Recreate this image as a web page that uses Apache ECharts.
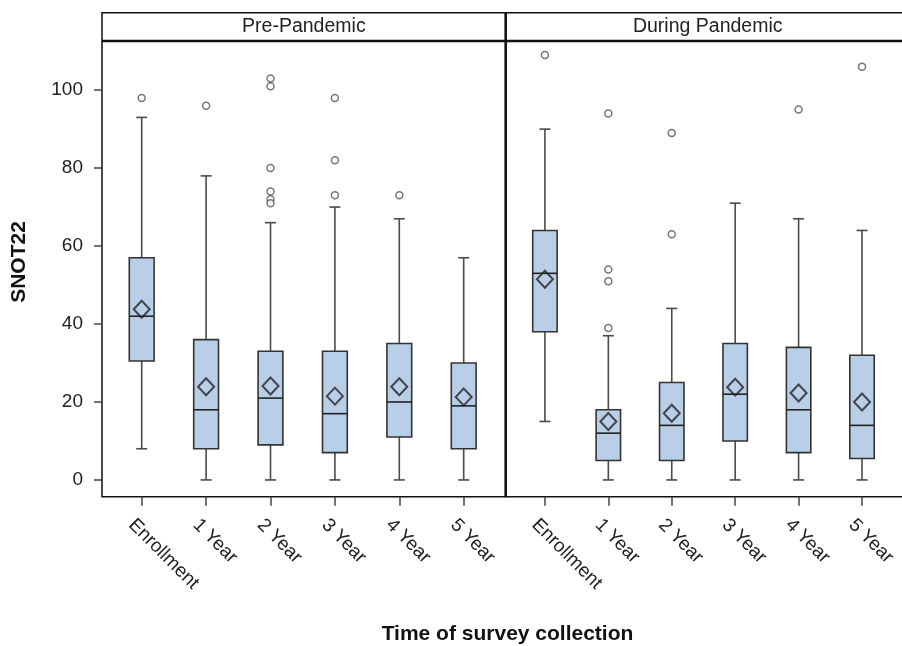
<!DOCTYPE html>
<html><head><meta charset="utf-8">
<script src="https://cdn.jsdelivr.net/npm/echarts@6/dist/echarts.min.js"></script>
<style>html,body{margin:0;padding:0;background:#fff}#c{width:902px;height:646px}</style>
</head><body><div id="c"></div>
<script>
// ---- data ----
const categories = ['Enrollment', '1 Year', '2 Year', '3 Year', '4 Year', '5 Year'];
const panelTitles = ['Pre-Pandemic', 'During Pandemic'];
const yTicks = [0, 20, 40, 60, 80, 100];
const yTitle = 'SNOT22';
const xTitle = 'Time of survey collection';

// [min, Q1, median, Q3, max] per category
const preBox = [[8, 30.5, 42, 57, 93], [0, 8, 18, 36, 78], [0, 9, 21, 33, 66], [0, 7, 17, 33, 70], [0, 11, 20, 35, 67], [0, 8, 19, 30, 57]];
const preMean = [43.8, 23.9, 24.1, 21.5, 23.9, 21.3];
const preOutliers = [[0, 98], [1, 96], [2, 103], [2, 101], [2, 80], [2, 74], [2, 72], [2, 71], [3, 98], [3, 82], [3, 73], [4, 73]];

const durBox = [[15, 38, 53, 64, 90], [0, 5, 12, 18, 37], [0, 5, 14, 25, 44], [0, 10, 22, 35, 71], [0, 7, 18, 34, 67], [0, 5.5, 14, 32, 64]];
const durMean = [51.5, 15.0, 17.1, 23.8, 22.3, 20.0];
const durOutliers = [[0, 109], [1, 94], [1, 54], [1, 51], [1, 39], [2, 89], [2, 63], [4, 95], [5, 106]];

// ---- chart ----
const FONT = '"Liberation Sans", Arial, sans-serif';
const yMin = -4.3, yMax = 112.6;
const chart = echarts.init(document.getElementById('c'), null, { renderer: 'canvas' });

function renderBox(params, api) {
  const x = api.value(0);
  const lo = api.coord([x, api.value(1)]);
  const q1 = api.coord([x, api.value(2)]);
  const med = api.coord([x, api.value(3)]);
  const q3 = api.coord([x, api.value(4)]);
  const hi = api.coord([x, api.value(5)]);
  const cx = lo[0];
  const bw = api.size([1, 0])[0] * 0.385;
  const cw = 11;
  const wStyle = { stroke: '#4a4a4a', lineWidth: 1.6 };
  return {
    type: 'group',
    children: [
      { type: 'line', shape: { x1: cx, y1: q1[1], x2: cx, y2: lo[1] }, style: wStyle },
      { type: 'line', shape: { x1: cx, y1: q3[1], x2: cx, y2: hi[1] }, style: wStyle },
      { type: 'line', shape: { x1: cx - cw / 2, y1: lo[1], x2: cx + cw / 2, y2: lo[1] }, style: wStyle },
      { type: 'line', shape: { x1: cx - cw / 2, y1: hi[1], x2: cx + cw / 2, y2: hi[1] }, style: wStyle },
      { type: 'rect', shape: { x: cx - bw / 2, y: q3[1], width: bw, height: q1[1] - q3[1] }, style: { fill: '#B9CFE8', stroke: '#333', lineWidth: 1.6 } },
      { type: 'line', shape: { x1: cx - bw / 2, y1: med[1], x2: cx + bw / 2, y2: med[1] }, style: { stroke: '#222', lineWidth: 1.6 } }
    ]
  };
}

function boxData(arr) { return arr.map((b, i) => [i].concat(b)); }
function meanData(arr) { return arr.map((v, i) => [i, v]); }

function panelSeries(idx, box, mean, outl) {
  return [
    { type: 'custom', xAxisIndex: idx, yAxisIndex: idx, renderItem: renderBox, data: boxData(box), encode: { x: 0, y: [1, 2, 3, 4, 5] }, silent: true, z: 2 },
    { type: 'scatter', xAxisIndex: idx, yAxisIndex: idx, data: meanData(mean), symbol: 'diamond', symbolSize: [16, 17], silent: true, z: 4,
      itemStyle: { color: 'rgba(0,0,0,0)', borderColor: '#222', borderWidth: 2 } },
    { type: 'scatter', xAxisIndex: idx, yAxisIndex: idx, data: outl, symbol: 'circle', symbolSize: 7, silent: true, z: 3, clip: false,
      itemStyle: { color: '#fff', borderColor: '#555', borderWidth: 1.5 } }
  ];
}

const frameTop = 12.7, stripBottom = 41, frameBottom = 496.7;
const panels = [{ x: 102, w: 403.7 }, { x: 505.7, w: 404 }];

const graphic = [];
panels.forEach((p, i) => {
  graphic.push({ type: 'rect', shape: { x: p.x, y: frameTop, width: p.w, height: frameBottom - frameTop }, style: { fill: 'none', stroke: '#111', lineWidth: 1.5 }, silent: true });
  graphic.push({ type: 'text', x: p.x + p.w / 2, y: (frameTop + stripBottom) / 2, style: { text: panelTitles[i], font: '19.5px ' + FONT, fill: '#222', align: 'center', verticalAlign: 'middle' }, silent: true });
});
graphic.push({ type: 'line', shape: { x1: 102, y1: stripBottom, x2: 910, y2: stripBottom }, style: { stroke: '#111', lineWidth: 2.5 }, silent: true });
graphic.push({ type: 'line', shape: { x1: 505.7, y1: frameTop, x2: 505.7, y2: frameBottom }, style: { stroke: '#111', lineWidth: 2.5 }, silent: true });
graphic.push({ type: 'text', x: 19.5, y: 262, rotation: Math.PI / 2, style: { text: yTitle, font: 'bold 21px ' + FONT, fill: '#111', align: 'center', verticalAlign: 'middle' }, silent: true });
graphic.push({ type: 'text', x: 507.5, y: 634, style: { text: xTitle, font: 'bold 21px ' + FONT, fill: '#111', align: 'center', verticalAlign: 'middle' }, silent: true });

const option = {
  animation: false,
  backgroundColor: '#fff',
  grid: [
    { left: 109.5, width: 386.4, top: stripBottom, bottom: 646 - frameBottom },
    { left: 513.2, width: 386.4, top: stripBottom, bottom: 646 - frameBottom }
  ],
  xAxis: [0, 1].map(i => ({
    type: 'category', gridIndex: i, data: categories, boundaryGap: true, position: 'bottom',
    axisLine: { show: false, onZero: false },
    axisTick: { show: true, alignWithLabel: true, length: 9, lineStyle: { color: '#444', width: 1.5 } },
    axisLabel: { interval: 0, rotate: -45, fontSize: 19, fontFamily: FONT, color: '#222', margin: 15, verticalAlign: 'top', lineHeight: 29 },
    splitLine: { show: false }
  })),
  yAxis: [0, 1].map(i => ({
    type: 'value', gridIndex: i, min: yMin, max: yMax, offset: 7.5,
    axisLine: { show: false },
    axisTick: { show: i === 0, length: 8, customValues: yTicks, lineStyle: { color: '#444', width: 1.5 } },
    axisLabel: { show: i === 0, customValues: yTicks, margin: 19, fontSize: 19, fontFamily: FONT, color: '#222' },
    splitLine: { show: false }
  })),
  graphic: graphic,
  series: [].concat(panelSeries(0, preBox, preMean, preOutliers), panelSeries(1, durBox, durMean, durOutliers))
};
chart.setOption(option);
</script>
</body></html>
